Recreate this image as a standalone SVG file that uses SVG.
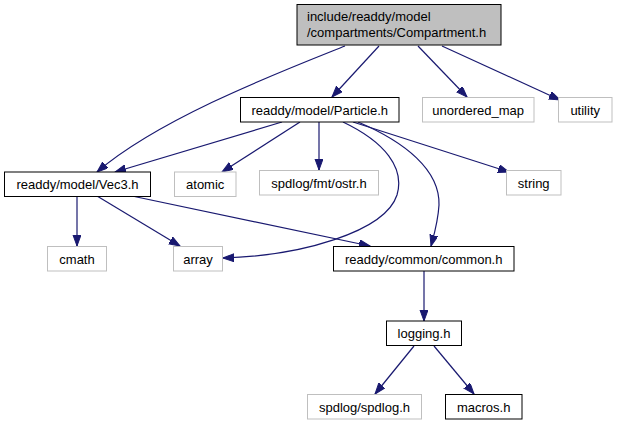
<svg xmlns="http://www.w3.org/2000/svg" width="617" height="427" viewBox="0 0 617 427">
<defs>
<marker id="ah" markerUnits="userSpaceOnUse" markerWidth="12" markerHeight="10" refX="11" refY="4" orient="auto">
<path d="M0,0 L11,4 L0,8 z" fill="#191970" stroke="#191970" stroke-width="1"/>
</marker>
</defs>
<style>
.n rect{fill:#fff;stroke:#000;stroke-width:1}
.g rect{fill:#fff;stroke:#bfbfbf;stroke-width:1}
.top rect{fill:#bfbfbf;stroke:#000;stroke-width:1}
text{font-family:"Liberation Sans",Arial,sans-serif;font-size:13px;fill:#000}
.c{text-anchor:middle}
#edges path{fill:none;stroke:#191970;stroke-width:1.2;marker-end:url(#ah)}
</style>
<rect width="617" height="427" fill="#fff"/>
<g id="edges">
<path d="M345,46 C280,72 160,118 97,172"/>
<path d="M379,46 L332,97"/>
<path d="M418,46 L467,97"/>
<path d="M442,46 L560,100"/>
<path d="M282,122 L115,172"/>
<path d="M300,122 L222,172"/>
<path d="M319,122 L319,170"/>
<path d="M353,122 L509,172"/>
<path d="M343,122 C385,142 405,168 397,195 C385,232 300,256 223,258"/>
<path d="M358,122 C405,142 440,170 439,205 C438,222 434,235 431,246"/>
<path d="M77,196 L77,246"/>
<path d="M97,196 L180,246"/>
<path d="M132,196 L370,246"/>
<path d="M424,271 L424,321"/>
<path d="M414,346 L375,394"/>
<path d="M434,346 L474,394"/>
</g>
<g id="compartment" class="top"><rect x="297" y="4.5" width="204" height="40.5"/><text x="307" y="21">include/readdy/model</text><text x="307" y="37">/compartments/Compartment.h</text></g>
<g id="particle" class="n"><rect x="240.5" y="97.5" width="158.5" height="24.5"/><text class="c" x="319.7" y="114.5">readdy/model/Particle.h</text></g>
<g id="unordered_map" class="g"><rect x="422.5" y="97.5" width="111.5" height="24.5"/><text class="c" x="478.2" y="114.5">unordered_map</text></g>
<g id="utility" class="g"><rect x="558.5" y="97.5" width="53.5" height="24.5"/><text class="c" x="585.2" y="114.5">utility</text></g>
<g id="vec3" class="n"><rect x="4.5" y="172" width="146" height="24.5"/><text class="c" x="77.5" y="189">readdy/model/Vec3.h</text></g>
<g id="atomic" class="g"><rect x="174.5" y="172" width="61.5" height="24.5"/><text class="c" x="205.2" y="189">atomic</text></g>
<g id="ostr" class="g"><rect x="259.5" y="170.5" width="119" height="24.5"/><text class="c" x="319" y="187.5">spdlog/fmt/ostr.h</text></g>
<g id="string" class="g"><rect x="506.5" y="170.5" width="54.5" height="24.5"/><text class="c" x="533.7" y="187.5">string</text></g>
<g id="cmath" class="g"><rect x="47.5" y="246.5" width="59" height="24.5"/><text class="c" x="77" y="263.5">cmath</text></g>
<g id="array" class="g"><rect x="173.5" y="246.5" width="49" height="24.5"/><text class="c" x="198" y="263.5">array</text></g>
<g id="common" class="n"><rect x="333.5" y="246.5" width="180.5" height="24.5"/><text class="c" x="423.7" y="263.5">readdy/common/common.h</text></g>
<g id="logging" class="n"><rect x="386.5" y="321" width="75" height="24.5"/><text class="c" x="424" y="338">logging.h</text></g>
<g id="spdlog" class="g"><rect x="307.5" y="394.5" width="114" height="24.5"/><text class="c" x="364.5" y="411.5">spdlog/spdlog.h</text></g>
<g id="macros" class="n"><rect x="445.5" y="394.5" width="76.5" height="24.5"/><text class="c" x="483.7" y="411.5">macros.h</text></g>
</svg>
